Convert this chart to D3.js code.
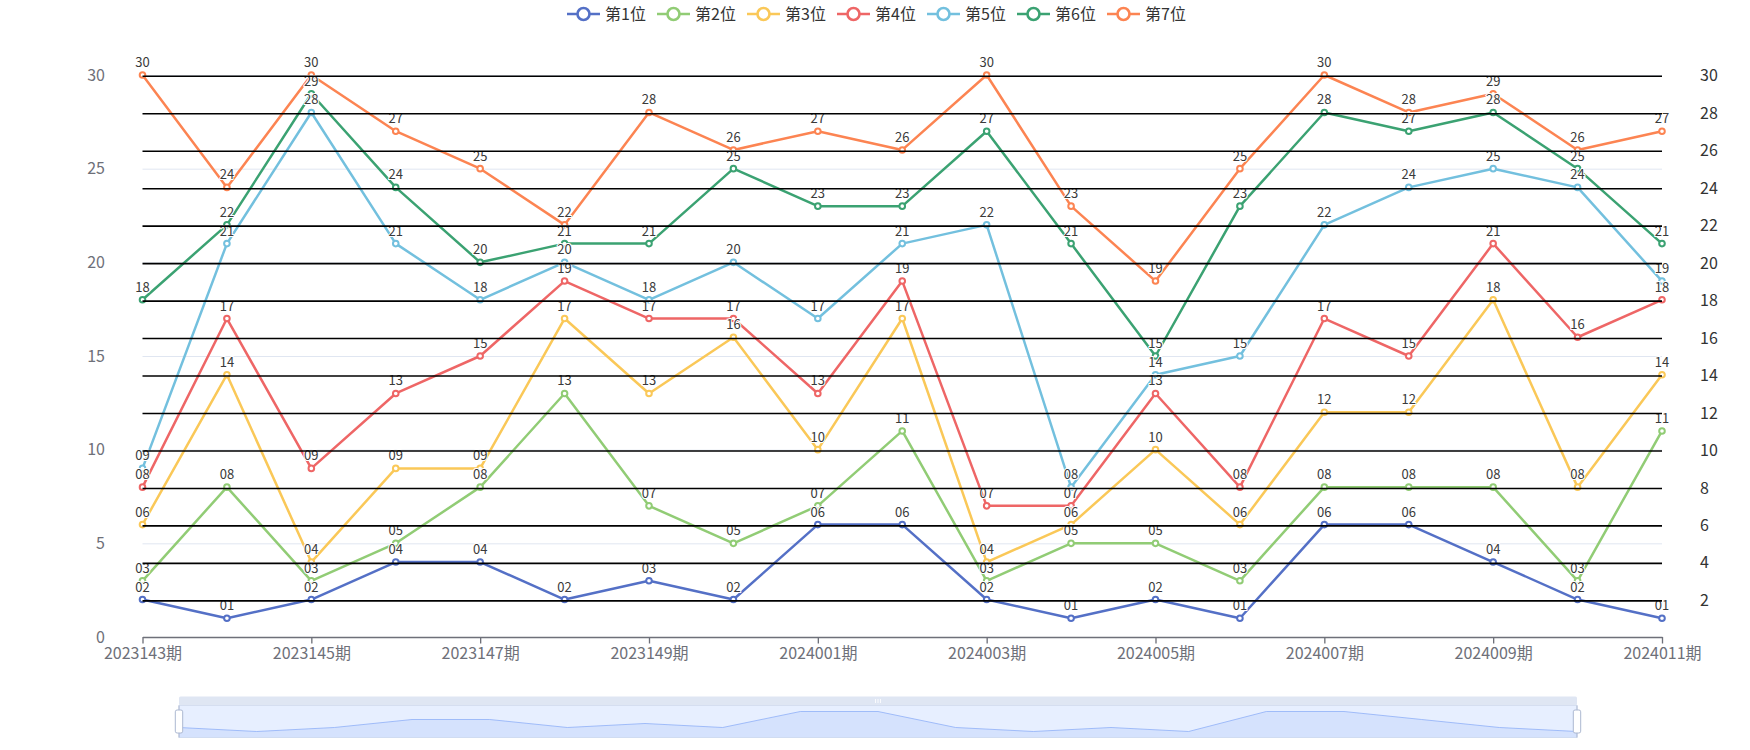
<!DOCTYPE html>
<html>
<head>
<meta charset="utf-8">
<script src="https://cdn.jsdelivr.net/npm/d3@7/dist/d3.min.js"></script>
<style>
  html, body { margin: 0; padding: 0; background: #fff; }
  svg { display: block; font-family: "Noto Sans CJK SC", "Noto Sans", sans-serif; }
</style>
</head>
<body>
<svg id="chart" width="1750" height="750"></svg>
<script>
const categories = ["2023143期","2023144期","2023145期","2023146期","2023147期","2023148期","2023149期","2023150期","2024001期","2024002期","2024003期","2024004期","2024005期","2024006期","2024007期","2024008期","2024009期","2024010期","2024011期"];
const seriesNames = ["第1位","第2位","第3位","第4位","第5位","第6位","第7位"];
const pos1 = [2,1,2,4,4,2,3,2,6,6,2,1,2,1,6,6,4,2,1];
const pos2 = [3,8,3,5,8,13,7,5,7,11,3,5,5,3,8,8,8,3,11];
const pos3 = [6,14,4,9,9,17,13,16,10,17,4,6,10,6,12,12,18,8,14];
const pos4 = [8,17,9,13,15,19,17,17,13,19,7,7,13,8,17,15,21,16,18];
const pos5 = [9,21,28,21,18,20,18,20,17,21,22,8,14,15,22,24,25,24,19];
const pos6 = [18,22,29,24,20,21,21,25,23,23,27,21,15,23,28,27,28,25,21];
const pos7 = [30,24,30,27,25,22,28,26,27,26,30,23,19,25,30,28,29,26,27];
const leftTicks = [0,5,10,15,20,25,30];
const rightTicks = [2,4,6,8,10,12,14,16,18,20,22,24,26,28,30];
const xLabelCats = categories.filter((d,i) => i % 2 === 0);
const colors = ["#5470c6","#91cc75","#fac858","#ee6666","#73c0de","#3ba272","#fc8452"];

const allSeries = [pos1,pos2,pos3,pos4,pos5,pos6,pos7];
const svg = d3.select("#chart");

const x = d3.scalePoint().domain(categories).range([142.5, 1662]);
const y = d3.scaleLinear().domain([0, 30]).range([637, 75]);
const pad2 = v => (v < 10 ? "0" + v : "" + v);

// left axis grid + labels
const gLeft = svg.append("g").attr("transform", "translate(142.5,0)")
  .call(d3.axisLeft(y).tickValues(leftTicks).tickSize(-(1662 - 142.5)).tickPadding(37.5));
gLeft.select(".domain").remove();
gLeft.selectAll(".tick line").attr("stroke", "#E0E6F1").attr("stroke-width", 1)
  .filter(d => d === 0).remove();
gLeft.selectAll(".tick text").attr("fill", "#6E7079").attr("font-size", 16)
  .attr("font-family", "Noto Sans CJK SC, sans-serif");

// x axis
const gX = svg.append("g").attr("transform", "translate(0,637)")
  .call(d3.axisBottom(x).tickValues(xLabelCats).tickSize(6.5).tickSizeOuter(0).tickPadding(4));
gX.select(".domain").attr("stroke", "#6E7079").attr("stroke-width", 1.33);
gX.selectAll(".tick line").attr("stroke", "#6E7079").attr("stroke-width", 1.33);
gX.selectAll(".tick text").attr("fill", "#6E7079").attr("font-size", 16)
  .attr("font-family", "Noto Sans CJK SC, sans-serif").attr("y", 22).attr("dy", 0);

// series
const lineGen = d3.line().x((d,i) => x(categories[i])).y(d => y(d));
const gSeries = svg.append("g");
allSeries.forEach((data, si) => {
  const g = gSeries.append("g");
  g.append("path").datum(data).attr("d", lineGen).attr("fill", "none")
    .attr("stroke", colors[si]).attr("stroke-width", 2.5).attr("stroke-linejoin", "round");
});
allSeries.forEach((data, si) => {
  gSeries.append("g").selectAll("circle").data(data).join("circle")
    .attr("cx", (d,i) => x(categories[i])).attr("cy", d => y(d)).attr("r", 2.8)
    .attr("fill", "#fff").attr("stroke", colors[si]).attr("stroke-width", 2);
});
const gLabels = svg.append("g");
allSeries.forEach((data, si) => {
  gLabels.append("g").selectAll("text").data(data).join("text")
    .attr("x", (d,i) => x(categories[i])).attr("y", d => y(d) - 8)
    .attr("text-anchor", "middle").attr("font-size", 13).attr("fill", "#3a3a3a")
    .attr("stroke", "#fff").attr("stroke-width", 2).attr("paint-order", "stroke")
    .text(d => pad2(d));
});

// right axis with black split lines (on top)
const gRight = svg.append("g").attr("transform", "translate(1662,0.8)")
  .call(d3.axisRight(y).tickValues(rightTicks).tickSize(-(1662 - 142.5)).tickPadding(38));
gRight.select(".domain").remove();
gRight.selectAll(".tick line").attr("stroke", "#000").attr("stroke-width", 1.6);
gRight.selectAll(".tick text").attr("fill", "#333").attr("font-size", 16)
  .attr("font-family", "Noto Sans CJK SC, sans-serif").attr("dy", "0.32em");

// legend
const gLegend = svg.append("g");
seriesNames.forEach((name, i) => {
  const x0 = 567 + i * 90, cy = 14;
  const g = gLegend.append("g");
  g.append("line").attr("x1", x0).attr("x2", x0 + 33).attr("y1", cy).attr("y2", cy)
    .attr("stroke", colors[i]).attr("stroke-width", 2.6);
  g.append("circle").attr("cx", x0 + 16.5).attr("cy", cy).attr("r", 6)
    .attr("fill", "#fff").attr("stroke", colors[i]).attr("stroke-width", 2.6);
  g.append("text").attr("x", x0 + 38).attr("y", cy).attr("dy", "0.35em")
    .attr("font-size", 16).attr("fill", "#333").text(name);
});

// data zoom slider
const dzL = 179, dzR = 1577, stripTop = 696.5, areaTop = 705.5, areaBot = 737.5;
const gDz = svg.append("g");
gDz.append("rect").attr("x", dzL).attr("y", stripTop).attr("width", dzR - dzL).attr("height", areaTop - stripTop)
  .attr("fill", "#D2DBEE").attr("fill-opacity", 0.7).attr("rx", 1.5);
const gripX = (dzL + dzR) / 2;
[-2.5, 0, 2.5].forEach(o => {
  gDz.append("line").attr("x1", gripX + o).attr("x2", gripX + o).attr("y1", stripTop + 2.5).attr("y2", stripTop + 6.5)
    .attr("stroke", "#fff").attr("stroke-width", 0.8);
});
gDz.append("rect").attr("x", dzL).attr("y", areaTop).attr("width", dzR - dzL).attr("height", areaBot - areaTop)
  .attr("fill", "rgb(135,175,255)").attr("fill-opacity", 0.2).attr("stroke", "#d2dbee").attr("stroke-width", 0.8);
const sx = d3.scalePoint().domain(categories).range([dzL, dzR]);
const ext = d3.extent(pos1);
const off = (ext[1] - ext[0]) * 0.3;
const sy = d3.scaleLinear().domain([ext[0] - off, ext[1] + off]).range([areaBot, areaTop]);
const area = d3.area().x((d,i) => sx(categories[i])).y0(areaBot).y1(d => sy(d));
const sline = d3.line().x((d,i) => sx(categories[i])).y(d => sy(d));
gDz.append("path").datum(pos1).attr("d", area).attr("fill", "#8fb0f7").attr("fill-opacity", 0.2);
gDz.append("path").datum(pos1).attr("d", sline).attr("fill", "none").attr("stroke", "#8fb0f7").attr("stroke-width", 0.8);
[dzL, dzR].forEach(hx => {
  gDz.append("line").attr("x1", hx).attr("x2", hx).attr("y1", areaTop).attr("y2", areaBot)
    .attr("stroke", "#ACB8D1").attr("stroke-width", 1);
  gDz.append("rect").attr("x", hx - 3.7).attr("y", (areaTop + areaBot) / 2 - 11.5).attr("width", 7.4).attr("height", 23)
    .attr("rx", 1.8).attr("fill", "#fff").attr("stroke", "#ACB8D1").attr("stroke-width", 1);
});
</script>
</body>
</html>
